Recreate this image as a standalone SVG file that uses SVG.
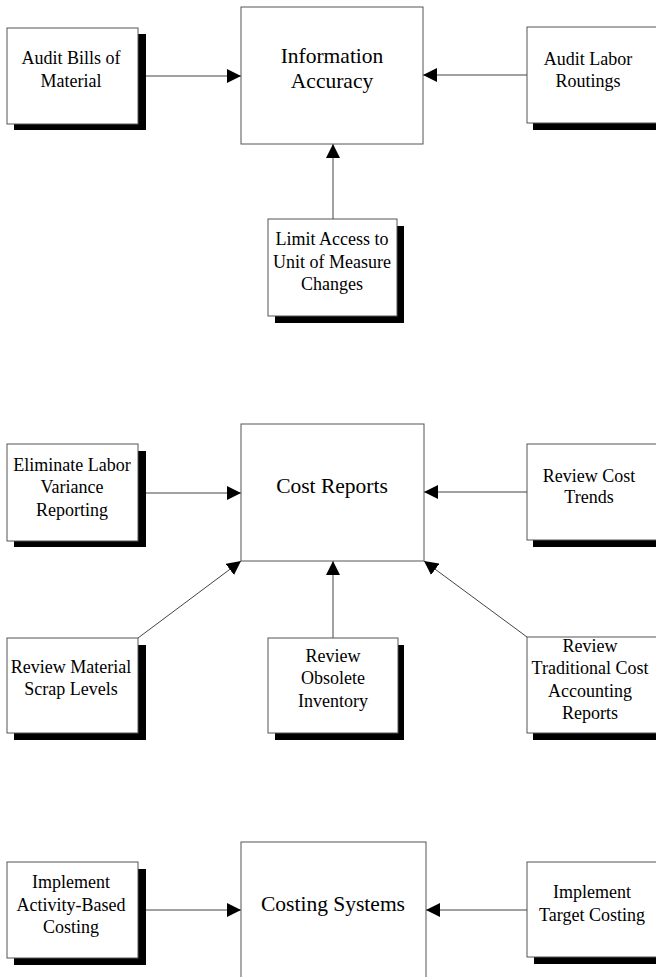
<svg xmlns="http://www.w3.org/2000/svg" width="656" height="977" viewBox="0 0 656 977">
<style>
.box{fill:#fff;stroke:#555;stroke-width:1}
.shadow{fill:#000}
.t{font-family:"Liberation Serif","Times New Roman",serif;font-size:18px;fill:#000;text-anchor:middle}
.big{font-family:"Liberation Serif","Times New Roman",serif;font-size:21.5px;fill:#000;text-anchor:middle}
.conn{stroke:#444;stroke-width:1;fill:none;marker-end:url(#ah)}
</style>
<defs>
<marker id="ah" markerUnits="userSpaceOnUse" markerWidth="15" markerHeight="14" refX="14" refY="7" orient="auto">
<path d="M0,0 L14,7 L0,14 Z" fill="#000"/>
</marker>
</defs>
<rect width="656" height="977" fill="#fff"/>
<g id="connectors">
<line class="conn" x1="138" y1="76" x2="241" y2="76"/>
<line class="conn" x1="527" y1="75" x2="423" y2="75"/>
<line class="conn" x1="333" y1="219" x2="333" y2="144"/>
<line class="conn" x1="138" y1="493" x2="241" y2="493"/>
<line class="conn" x1="527" y1="492" x2="424" y2="492"/>
<line class="conn" x1="138" y1="638" x2="241" y2="561"/>
<line class="conn" x1="333" y1="638" x2="333" y2="561"/>
<line class="conn" x1="527" y1="637" x2="424" y2="561"/>
<line class="conn" x1="138" y1="910" x2="241" y2="910"/>
<line class="conn" x1="527" y1="910" x2="426" y2="910"/>
</g>
<g id="information-accuracy">
<rect class="box" x="241" y="7" width="182" height="137"/>
<text class="big" x="332" y="63">Information</text>
<text class="big" x="332" y="88">Accuracy</text>
</g>
<g id="audit-bills">
<rect class="shadow" x="14" y="34" width="132" height="96"/>
<rect class="box" x="7" y="28" width="131" height="96"/>
<text class="t" x="71" y="64">Audit Bills of</text>
<text class="t" x="71" y="87">Material</text>
</g>
<g id="audit-labor">
<rect class="shadow" x="533" y="33" width="132" height="97"/>
<rect class="box" x="527" y="27" width="131" height="96"/>
<text class="t" x="588" y="65">Audit Labor</text>
<text class="t" x="588" y="87">Routings</text>
</g>
<g id="limit-access">
<rect class="shadow" x="275" y="226" width="129" height="97"/>
<rect class="box" x="268" y="219" width="129" height="97"/>
<text class="t" x="332" y="245">Limit Access to</text>
<text class="t" x="332" y="268">Unit of Measure</text>
<text class="t" x="332" y="290">Changes</text>
</g>
<g id="cost-reports">
<rect class="box" x="241" y="424" width="183" height="137"/>
<text class="big" x="332" y="493">Cost Reports</text>
</g>
<g id="eliminate-labor">
<rect class="shadow" x="14" y="451" width="132" height="96"/>
<rect class="box" x="7" y="444" width="131" height="97"/>
<text class="t" x="72" y="471">Eliminate Labor</text>
<text class="t" x="72" y="493">Variance</text>
<text class="t" x="72" y="516">Reporting</text>
</g>
<g id="review-cost-trends">
<rect class="shadow" x="533" y="451" width="132" height="96"/>
<rect class="box" x="527" y="444" width="131" height="96"/>
<text class="t" x="589" y="482">Review Cost</text>
<text class="t" x="589" y="503">Trends</text>
</g>
<g id="review-material">
<rect class="shadow" x="14" y="645" width="132" height="95"/>
<rect class="box" x="7" y="638" width="131" height="95"/>
<text class="t" x="71" y="673">Review Material</text>
<text class="t" x="71" y="695">Scrap Levels</text>
</g>
<g id="review-obsolete">
<rect class="shadow" x="275" y="645" width="129" height="95"/>
<rect class="box" x="268" y="638" width="130" height="95"/>
<text class="t" x="333" y="662">Review</text>
<text class="t" x="333" y="684">Obsolete</text>
<text class="t" x="333" y="707">Inventory</text>
</g>
<g id="review-traditional">
<rect class="shadow" x="533" y="644" width="132" height="96"/>
<rect class="box" x="527" y="637" width="131" height="96"/>
<text class="t" x="590" y="652">Review</text>
<text class="t" x="590" y="674">Traditional Cost</text>
<text class="t" x="590" y="697">Accounting</text>
<text class="t" x="590" y="719">Reports</text>
</g>
<g id="costing-systems">
<rect class="box" x="241" y="842" width="185" height="150"/>
<text class="big" x="333" y="911">Costing Systems</text>
</g>
<g id="implement-abc">
<rect class="shadow" x="14" y="869" width="132" height="96"/>
<rect class="box" x="7" y="862" width="131" height="96"/>
<text class="t" x="71" y="888">Implement</text>
<text class="t" x="71" y="911">Activity-Based</text>
<text class="t" x="71" y="933">Costing</text>
</g>
<g id="implement-target">
<rect class="shadow" x="534" y="869" width="132" height="95"/>
<rect class="box" x="527" y="862" width="131" height="95"/>
<text class="t" x="592" y="898">Implement</text>
<text class="t" x="592" y="921">Target Costing</text>
</g>
</svg>
